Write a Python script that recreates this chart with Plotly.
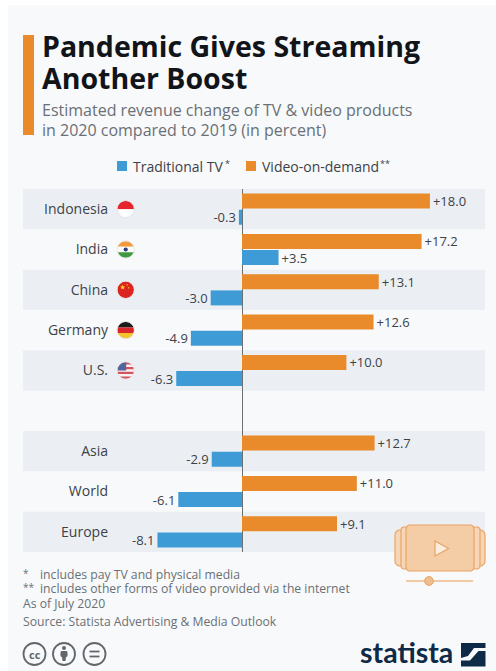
import math
import plotly.graph_objects as go

W, H = 496, 671

regions = ["Indonesia", "India", "China", "Germany", "U.S.", " ", "Asia", "World", "Europe"]
traditional_tv = [-0.3, 3.5, -3.0, -4.9, -6.3, None, -2.9, -6.1, -8.1]
video_on_demand = [18.0, 17.2, 13.1, 12.6, 10.0, None, 12.7, 11.0, 9.1]

ORANGE = "#e98b2a"
BLUE = "#3f9bd5"
BAND = "#ebeff4"
NAVY = "#0f2a46"
TEXT = "#3c4248"
MUTED = "#6a7076"

PLOT_L, PLOT_R, PLOT_T, PLOT_B = 23, 485, 189, 552
ZERO_PX = 242
PX_PER_UNIT = 10.44


def fx(px):
    return px / W


def fy(py):
    return 1 - py / H


def poly(points, fill, line=None, width=0, opacity=1.0, close=True):
    path = "M " + " L ".join(f"{fx(x):.5f},{fy(y):.5f}" for x, y in points)
    if close:
        path += " Z"
    return dict(type="path", xref="paper", yref="paper", path=path, fillcolor=fill if close else None,
                line=dict(color=line or "rgba(0,0,0,0)", width=width), opacity=opacity, layer="above")


def circle_band(cx, cy, r, y0, y1, fill):
    """Part of a disc between two horizontal lines, as a polygon."""
    y0, y1 = max(y0, cy - r), min(y1, cy + r)
    pts = []
    steps = 16
    for i in range(steps + 1):
        y = y0 + (y1 - y0) * i / steps
        pts.append((cx + math.sqrt(max(r * r - (y - cy) ** 2, 0)), y))
    for i in range(steps, -1, -1):
        y = y0 + (y1 - y0) * i / steps
        pts.append((cx - math.sqrt(max(r * r - (y - cy) ** 2, 0)), y))
    return poly(pts, fill)


def disc(cx, cy, r, fill=None, line=None, width=0):
    return dict(type="circle", xref="paper", yref="paper", x0=fx(cx - r), x1=fx(cx + r), y0=fy(cy + r), y1=fy(cy - r),
                fillcolor=fill, line=dict(color=line or "rgba(0,0,0,0)", width=width), layer="above")


def rounded(x0, y0, x1, y1, r, fill, line, width, opacity=1.0):
    pts = []
    for cx, cy, a0 in ((x1 - r, y0 + r, -90), (x1 - r, y1 - r, 0), (x0 + r, y1 - r, 90), (x0 + r, y0 + r, 180)):
        for k in range(7):
            a = math.radians(a0 + 15 * k)
            pts.append((cx + r * math.cos(a), cy + r * math.sin(a)))
    return poly(pts, fill, line, width, opacity)


def star(cx, cy, r, fill):
    pts = []
    for k in range(10):
        rad = r if k % 2 == 0 else r * 0.42
        a = math.radians(-90 + 36 * k)
        pts.append((cx + rad * math.cos(a), cy + rad * math.sin(a)))
    return poly(pts, fill)


def row_center(i):
    return PLOT_T + (PLOT_B - PLOT_T) * (i + 0.5) / len(regions)


def flag_shapes():
    cx, r = 125.7, 8.3
    out = []
    # Indonesia
    c = row_center(0)
    out += [circle_band(cx, c, r, c - r, c, "#e5262d"), circle_band(cx, c, r, c, c + r, "#fdfdfd")]
    # India
    c = row_center(1)
    out += [circle_band(cx, c, r, c - r, c - r / 3, "#f39a3c"),
            circle_band(cx, c, r, c - r / 3, c + r / 3, "#fbfbfb"),
            circle_band(cx, c, r, c + r / 3, c + r, "#3f9a3f"),
            disc(cx, c, 2.1, "#2a3f7c")]
    # China
    c = row_center(2)
    out += [disc(cx, c, r, "#dc2420"), star(cx - 3, c - 2.5, 2.8, "#f7d324"),
            star(cx + 1.5, c - 5, 1.1, "#f7d324"), star(cx + 3, c - 2, 1.1, "#f7d324")]
    # Germany
    c = row_center(3)
    out += [circle_band(cx, c, r, c - r, c - r / 3, "#1c1c1c"),
            circle_band(cx, c, r, c - r / 3, c + r / 3, "#d8262b"),
            circle_band(cx, c, r, c + r / 3, c + r, "#f4c42c")]
    # United States
    c = row_center(4)
    out.append(disc(cx, c, r, "#f6f2f2"))
    for k in range(4):
        y0 = c - r + k * 2 * r / 3.5
        out.append(circle_band(cx, c, r, y0, y0 + r / 3.5, "#d5555f"))
    out.append(poly([(cx - r * math.cos(math.radians(a)), c - r * math.sin(math.radians(a))) for a in range(0, 91, 10)]
                    + [(cx + 0.5, c - r + 0.2), (cx + 0.5, c), (cx - r, c)], "#53659b"))
    # soft rim around every flag
    for i in range(5):
        out.append(disc(cx, row_center(i), r + 0.4, "rgba(0,0,0,0)", "rgba(225,225,225,0.8)", 1))
    return out


def video_icon():
    o = "#e9a464"
    f = "#f4cda6"
    out = [
        rounded(395, 530, 412, 566, 5, "#f6d6b6", o, 1.2),
        rounded(401, 527, 412, 569, 3, "#f6d6b6", o, 1.2),
        rounded(468, 530, 485, 566, 5, "#f6d6b6", o, 1.2),
        rounded(468, 527, 480, 569, 3, "#f6d6b6", o, 1.2),
        rounded(406, 525, 474, 571, 4, f, o, 1.2),
        poly([(435, 541), (435, 556), (448.5, 548.5)], "#fbeee0", o, 1.2),
        poly([(406, 581), (473, 581)], None, "#eeb888", 1.6, close=False),
        disc(429, 581, 4.4, "#f0bd8f", "#e9a464", 1),
    ]
    return out


def licence_icons():
    grey = "#62676c"
    out = []
    for cx in (34.5, 64, 94.5):
        out.append(disc(cx, 654, 11, "rgba(0,0,0,0)", grey, 1.8))
    # person
    out.append(disc(64, 648, 2, grey))
    out.append(rounded(60.5, 651, 67.5, 657, 1.5, grey, grey, 0))
    out.append(poly([(62, 657), (66, 657), (65.5, 661), (62.5, 661)], grey))
    # equals
    out.append(poly([(89.5, 651.5), (99.5, 651.5)], None, grey, 1.8, close=False))
    out.append(poly([(89.5, 656.5), (99.5, 656.5)], None, grey, 1.8, close=False))
    return out


def statista_mark():
    x0, x1, y0, y1 = 461, 485.5, 643, 666.5
    return [
        poly([(x0, y0), (x1, y0), (x1, y0 + 5), (x0 + 13, y0 + 5), (x0 + 7, y0 + 13), (x0, y0 + 15)], NAVY),
        poly([(x0, y1), (x0, y1 - 6), (x0 + 9, y1 - 6), (x1 - 7, y0 + 8), (x1, y0 + 8), (x1, y1)], NAVY),
    ]


def add_series(figure, name, values, color):
    # Rows without a value stay empty, so they get neither a bar nor a label.
    rows = [(r, v) for r, v in zip(regions, values) if v is not None]
    figure.add_trace(go.Bar(
        y=[r for r, _ in rows], x=[v for _, v in rows], name=name, orientation="h", marker_color=color,
        text=[f"{v:+.1f}" for _, v in rows],
    ))


fig = go.Figure()
add_series(fig, "Video-on-demand**", video_on_demand, ORANGE)
add_series(fig, "Traditional TV*", traditional_tv, BLUE)
fig.update_traces(textposition="outside", cliponaxis=False, hoverinfo="skip", constraintext="none",
                  textfont=dict(family="Open Sans", size=13, color=TEXT), marker_line_width=0,
                  showlegend=False)

bands = [dict(type="rect", xref="x domain", yref="y", x0=0, x1=1, y0=i - 0.5, y1=i + 0.5,
              fillcolor=BAND, line_width=0, layer="below")
         for i in range(0, len(regions), 2)]
panel = [dict(type="rect", xref="paper", yref="paper", x0=fx(8), x1=1, y0=0, y1=fy(5),
              fillcolor="#f8f9fa", line_width=0, layer="below"),
         dict(type="rect", xref="paper", yref="paper", x0=fx(23), x1=fx(34), y0=fy(135), y1=fy(35),
              fillcolor=ORANGE, line_width=0, layer="below")]
legend_marks = [dict(type="rect", xref="paper", yref="paper", x0=fx(x), x1=fx(x + 10), y0=fy(171), y1=fy(161),
                     fillcolor=c, line_width=0, layer="above")
                for x, c in ((117, BLUE), (246, ORANGE))]


def note(text, x, y, size, col, family="Open Sans", anchor="left"):
    return dict(text=text, x=fx(x), y=fy(y), xref="paper", yref="paper", xanchor=anchor, yanchor="middle",
                showarrow=False, align="left", font=dict(family=family, size=size, color=col))


NOTE_SIZE = 12.2
MARK_SIZE = 10
annotations = [
    note("<b>Pandemic Gives Streaming</b>", 40, 46, 28.5, "#111418"),
    note("<b>Another Boost</b>", 40, 78, 28.5, "#111418"),
    note("Estimated revenue change of TV &amp; video products", 40, 110, 16, MUTED),
    note("in 2020 compared to 2019 (in percent)", 40, 130, 16, MUTED),
    note("Traditional TV", 131, 166, 14, TEXT),
    note("*", 223, 164, 9, TEXT),
    note("Video-on-demand", 260, 166, 14, TEXT),
    note("**", 378, 164, 9, TEXT),
    note("*", 21, 573, MARK_SIZE, MUTED),
    note("includes pay TV and physical media", 38, 574, NOTE_SIZE, MUTED),
    note("**", 21, 587, MARK_SIZE, MUTED),
    note("includes other forms of video provided via the internet", 38, 588.5, NOTE_SIZE, MUTED),
    note("As of July 2020", 21, 603.5, NOTE_SIZE, MUTED),
    note("Source: Statista Advertising &amp; Media Outlook", 21, 621, NOTE_SIZE, MUTED),
    note("<b>statista</b>", 455, 652, 28.5, NAVY, family="Lato", anchor="right"),
    note("<b>cc</b>", 34.5, 654, 11, "#62676c", anchor="center"),
]

fig.update_layout(
    width=W, height=H, margin=dict(l=0, r=0, t=0, b=0), autosize=False,
    paper_bgcolor="#ffffff", plot_bgcolor="rgba(0,0,0,0)",
    barmode="group", bargap=0.2, bargroupgap=0.07,
    font=dict(family="Open Sans", color=TEXT),
    xaxis=dict(domain=[fx(PLOT_L), fx(PLOT_R)],
               range=[(PLOT_L - ZERO_PX) / PX_PER_UNIT, (PLOT_R - ZERO_PX) / PX_PER_UNIT],
               showgrid=False, showticklabels=False, ticks="", zeroline=True, zerolinecolor="#6b7075", zerolinewidth=1.2),
    yaxis=dict(domain=[fy(PLOT_B), fy(PLOT_T)], autorange=False, range=[len(regions) - 0.5, -0.5],
               type="category", categoryorder="array", categoryarray=regions,
               tickmode="array", tickvals=[r for r in regions if r.strip()],
               showgrid=False, ticks="", showline=False, zeroline=False, anchor="free", position=fx(108),
               tickfont=dict(family="Open Sans", size=14, color=TEXT)),
    showlegend=False,
    shapes=panel + bands + legend_marks + flag_shapes() + video_icon() + licence_icons() + statista_mark(),
    annotations=annotations,
)

fig.write_html("out.html")
